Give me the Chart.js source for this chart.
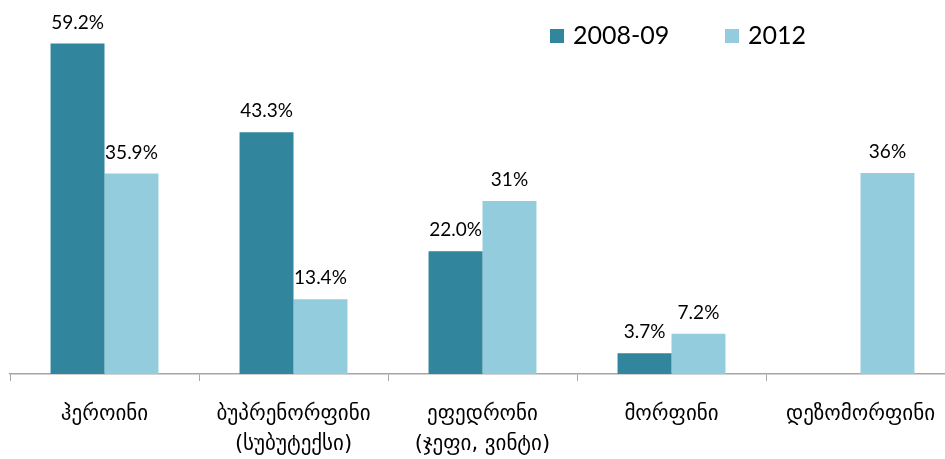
<!DOCTYPE html>
<html>
<head>
<meta charset="utf-8">
<script src="https://cdn.jsdelivr.net/npm/chart.js@4/dist/chart.umd.min.js"></script>
<style>
  html, body { margin: 0; padding: 0; background: #fff; overflow: hidden; }
  #wrap { width: 960px; height: 459px; position: relative; }
</style>
</head>
<body>
<div id="wrap"><canvas id="chart"></canvas></div>
<script>
const categories = [
    "ჰეროინი",
    ["ბუპრენორფინი", "(სუბუტექსი)"],
    ["ეფედრონი", "(ჯეფი, ვინტი)"],
    "მორფინი",
    "დეზომორფინი"
];
const series2008 = [59.2, 43.3, 22.0, 3.7, null];
const series2012 = [35.9, 13.4, 31, 7.2, 36];
const labels2008 = ["59.2%", "43.3%", "22.0%", "3.7%", ""];
const labels2012 = ["35.9%", "13.4%", "31%", "7.2%", "36%"];

const colors = {
    dark: "#31859c",
    light: "#93cddd",
    axis: "#a6a6a6",
};

const valueLabels = {
    id: "valueLabels",
    afterDatasetsDraw(chart) {
        const ctx = chart.ctx;
        const texts = [labels2008, labels2012];
        ctx.save();
        ctx.font = "19px Lato, 'DejaVu Sans', sans-serif";
        ctx.fillStyle = "#000";
        ctx.textAlign = "center";
        ctx.textBaseline = "alphabetic";
        chart.data.datasets.forEach((ds, i) => {
            const meta = chart.getDatasetMeta(i);
            meta.data.forEach((bar, j) => {
                if (ds.data[j] == null) return;
                ctx.fillText(texts[i][j], bar.x, bar.y - 15);
            });
        });
        ctx.restore();
    }
};

const sideLegend = {
    id: "sideLegend",
    afterDraw(chart) {
        const ctx = chart.ctx;
        const items = [
            { x: 550, text: "2008-09", color: colors.dark },
            { x: 725, text: "2012", color: colors.light },
        ];
        ctx.save();
        ctx.font = "25px Lato, sans-serif";
        ctx.textBaseline = "middle";
        ctx.textAlign = "left";
        for (const it of items) {
            ctx.fillStyle = it.color;
            ctx.fillRect(it.x, 29, 14, 14);
            ctx.fillStyle = "#000";
            ctx.fillText(it.text, it.x + 23, 36);
        }
        ctx.restore();
    }
};

new Chart(document.querySelector("#chart"), {
    type: "bar",
    data: {
        labels: categories,
        datasets: [
            {
                label: "2008-09",
                data: series2008,
                backgroundColor: colors.dark,
                barPercentage: 1,
                categoryPercentage: 0.571
            },
            {
                label: "2012",
                data: series2012,
                backgroundColor: colors.light,
                barPercentage: 1,
                categoryPercentage: 0.571
            }
        ]
    },
    options: {
        responsive: true,
        maintainAspectRatio: false,
        animation: false,
        layout: { padding: { left: 10, right: 5, top: 0, bottom: 0 } },
        plugins: {
            legend: { display: false },
            tooltip: { enabled: false }
        },
        scales: {
            y: {
                display: false,
                min: 0,
                max: 67
            },
            x: {
                border: { color: colors.axis, width: 1.5 },
                grid: {
                    drawOnChartArea: false,
                    drawTicks: true,
                    tickLength: 7,
                    color: colors.axis,
                    offset: true
                },
                ticks: {
                    color: "#000",
                    padding: 18,
                    maxRotation: 0,
                    autoSkip: false,
                    font: { family: "'DejaVu Sans'", size: 21, lineHeight: 1.45 }
                },
                afterFit(scale) {
                    scale.height = 85;
                }
            }
        }
    },
    plugins: [valueLabels, sideLegend]
});
</script>
</body>
</html>
